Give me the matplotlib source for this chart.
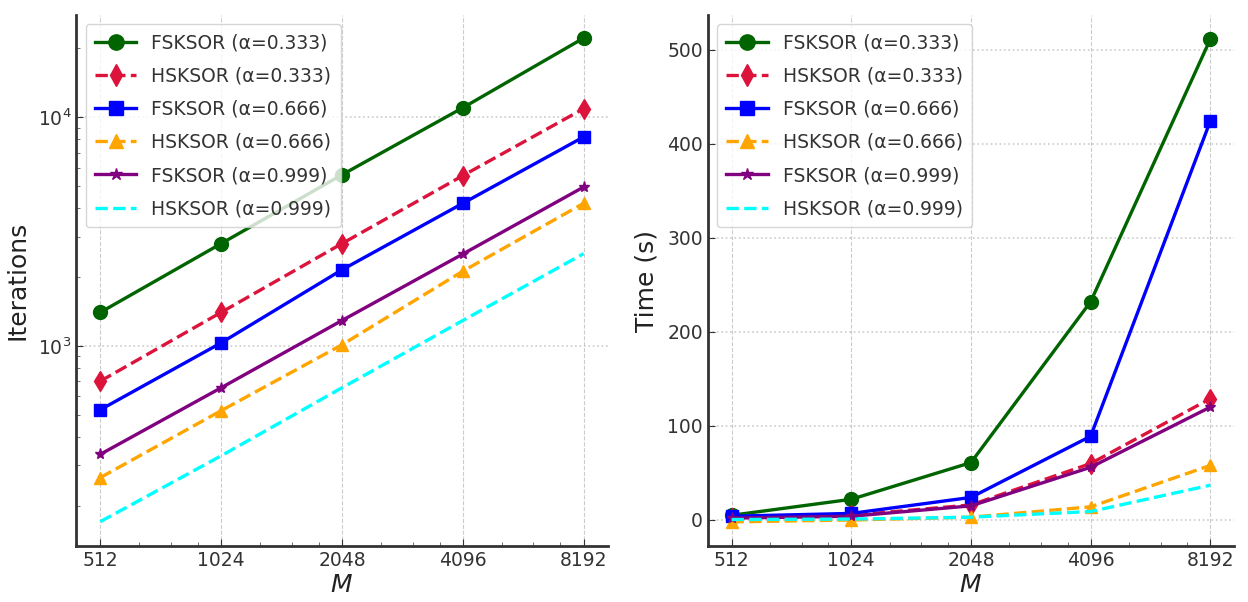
import matplotlib
matplotlib.use('Agg')
import matplotlib.pyplot as plt
from matplotlib.ticker import FixedLocator, FixedFormatter, LogLocator, NullFormatter

M = [512, 1024, 2048, 4096, 8192]
labels = ['FSKSOR (α=0.333)', 'HSKSOR (α=0.333)', 'FSKSOR (α=0.666)',
          'HSKSOR (α=0.666)', 'FSKSOR (α=0.999)', 'HSKSOR (α=0.999)']

# iterations
it_f333 = [1400, 2800, 5600, 11000, 22200]
it_h333 = [700, 1400, 2800, 5550, 10900]
it_f666 = [525, 1030, 2150, 4200, 8200]
it_h666 = [265, 520, 1010, 2120, 4200]
it_f999 = [335, 655, 1290, 2520, 4950]
it_h999 = [170, 330, 655, 1290, 2530]

# cpu time (s)
t_f333 = [5, 22, 61, 232, 511]
t_h333 = [2, 5, 16, 60, 129]
t_f666 = [4, 7, 24, 89, 424]
t_h666 = [-2, 0, 3, 14, 58]
t_f999 = [2, 4, 15, 56, 120]
t_h999 = [0.5, 1, 3, 9, 37]

styles = [
    dict(color='darkgreen', ls='-', marker='o', ms=10),
    dict(color='crimson', ls='--', marker='d', ms=10),
    dict(color='blue', ls='-', marker='s', ms=9),
    dict(color='orange', ls='--', marker='^', ms=9),
    dict(color='purple', ls='-', marker='*', ms=8),
    dict(color='cyan', ls='--', marker=None),
]

plt.rcParams['font.family'] = ['DejaVu Sans']
fig = plt.figure(figsize=(12.48, 6.02), dpi=100)
ax1 = fig.add_axes([0.061, 0.093, 0.426, 0.882])
ax2 = fig.add_axes([0.567, 0.093, 0.422, 0.882])

it_data = [it_f333, it_h333, it_f666, it_h666, it_f999, it_h999]
t_data = [t_f333, t_h333, t_f666, t_h666, t_f999, t_h999]

for ys, lab, st in zip(it_data, labels, styles):
    ax1.plot(M, ys, label=lab, lw=2.4, **st)
for ys, lab, st in zip(t_data, labels, styles):
    ax2.plot(M, ys, label=lab, lw=2.4, **st)

ax1.set_yscale('log')
ax1.set_ylim(133, 28000)
ax1.set_ylabel('Iterations', fontsize=18, color='#222222', labelpad=6)
ax2.set_ylabel('Time (s)', fontsize=18, color='#222222', labelpad=6)

for ax in (ax1, ax2):
    ax.set_xscale('log', base=2)
    ax.xaxis.set_major_locator(FixedLocator(M))
    ax.xaxis.set_major_formatter(FixedFormatter([str(m) for m in M]))
    ax.xaxis.set_minor_locator(LogLocator(base=2, subs=[1.25, 1.5, 1.75]))
    ax.xaxis.set_minor_formatter(NullFormatter())
    ax.set_xlabel('$M$', fontsize=18, color='#222222', labelpad=2)
    ax.spines['top'].set_visible(False)
    ax.spines['right'].set_visible(False)
    ax.spines['left'].set_linewidth(2)
    ax.spines['bottom'].set_linewidth(2)
    ax.spines['left'].set_color('#333333')
    ax.spines['bottom'].set_color('#333333')
    ax.tick_params(axis='both', which='major', labelsize=13.5, colors='#333333',
                   direction='in', length=5)
    ax.tick_params(axis='both', which='minor', direction='in', length=3, colors='#555555')
    ax.grid(True, which='major', axis='x', ls='--', lw=0.8, color='#cccccc')
    ax.grid(True, which='major', axis='y', ls=':', lw=1.2, color='#cccccc')
    leg = ax.legend(loc='upper left', fontsize=13.5, frameon=True, fancybox=True,
                    handlelength=2.2, borderpad=0.5, labelspacing=0.75,
                    markerscale=1.1)
    leg.get_frame().set_edgecolor('#cccccc')
    for t in leg.get_texts():
        t.set_color('#333333')

fig.savefig('out.png', dpi=100)
